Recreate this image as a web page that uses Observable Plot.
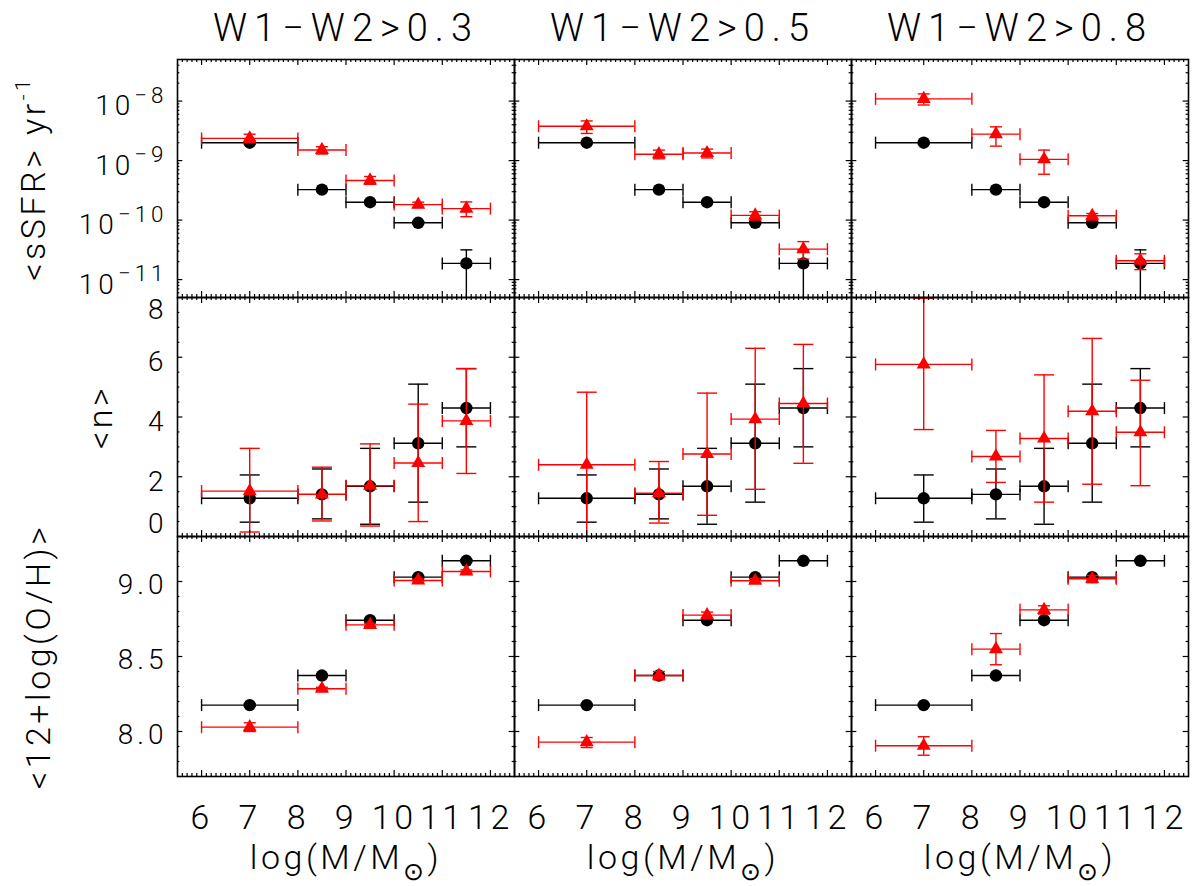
<!DOCTYPE html>
<html>
<head>
<meta charset="utf-8">
<script src="https://cdn.jsdelivr.net/npm/d3@7"></script>
<script src="https://cdn.jsdelivr.net/npm/@observablehq/plot@0.6"></script>
<style>
  body { margin: 0; background: #fff; }
  #chart { position: relative; width: 1197px; height: 886px; background: #fff; }
  #chart svg { position: absolute; left: 0; overflow: visible; }
</style>
</head>
<body>
<div id="chart"></div>
<script>
// ---------------- data ----------------
const columns = ["W1−W2>0.3", "W1−W2>0.5", "W1−W2>0.8"];
const massBin = [7, 8.5, 9.5, 10.5, 11.5];
const massLo  = [6, 8, 9, 10, 11];
const massHi  = [8, 9, 10, 11, 12];

// black circles: full sample (identical in every column)
const ssfrAll   = [2.0e-9, 3.25e-10, 2.0e-10, 9.0e-11, 1.87e-11];
const ssfrAllLo = [1.9e-9, 3.1e-10, 1.9e-10, 8.6e-11, 1e-13];
const ssfrAllHi = [2.1e-9, 3.4e-10, 2.1e-10, 9.4e-11, 3.16e-11];
const nAll      = [1.28, 1.41, 1.68, 3.12, 4.30];
const nAllLo    = [0.48, 0.59, 0.41, 1.15, 3.00];
const nAllHi    = [2.06, 2.26, 2.95, 5.10, 5.62];
const ohAll     = [8.176, 8.373, 8.742, 9.029, 9.138];
const ohAllLo   = [8.168, 8.364, 8.734, 9.022, 9.131];
const ohAllHi   = [8.184, 8.382, 8.750, 9.036, 9.145];

// red triangles: W1-W2 selected samples, one list per column
const ssfrRed   = [[2.36e-9, 1.51e-9, 4.64e-10, 1.82e-10, 1.56e-10],
                   [3.78e-9, 1.28e-9, 1.34e-9, 1.20e-10, 3.25e-11],
                   [1.09e-8, 2.78e-9, 1.05e-9, 1.18e-10, 2.07e-11]];
const ssfrRedLo = [[2.0e-9, 1.29e-9, 4.0e-10, 1.63e-10, 1.14e-10],
                   [2.86e-9, 1.07e-9, 1.11e-9, 1.0e-10, 2.21e-11],
                   [8.6e-9, 1.75e-9, 5.9e-10, 1.0e-10, 1.47e-11]];
const ssfrRedHi = [[2.78e-9, 1.71e-9, 5.4e-10, 2.0e-10, 2.02e-10],
                   [4.64e-9, 1.5e-9, 1.56e-9, 1.38e-10, 4.35e-11],
                   [1.32e-8, 3.69e-9, 1.5e-9, 1.29e-10, 2.71e-11]];
const nRed      = [[1.52, 1.41, 1.70, 2.46, 3.87],
                   [2.40, 1.45, 2.76, 3.93, 4.45],
                   [5.76, 2.68, 3.28, 4.19, 3.49]];
const nRedLo    = [[0.15, 0.52, 0.35, 0.50, 2.11],
                   [-0.10, 0.45, 0.71, 1.58, 2.45],
                   [3.58, 1.81, 1.15, 1.75, 1.70]];
const nRedHi    = [[2.95, 2.32, 3.10, 4.43, 5.62],
                   [4.83, 2.51, 4.80, 6.30, 6.43],
                   [7.97, 3.55, 5.41, 6.63, 5.23]];
const ohRed     = [[8.029, 8.285, 8.711, 9.007, 9.067],
                   [7.929, 8.373, 8.776, 9.005, null],
                   [7.905, 8.549, 8.811, 9.018, null]];
const ohRedLo   = [[8.000, 8.275, 8.701, 8.997, 9.057],
                   [7.893, 8.344, 8.752, 8.992, null],
                   [7.842, 8.445, 8.783, 8.992, null]];
const ohRedHi   = [[8.058, 8.295, 8.721, 9.017, 9.077],
                   [7.960, 8.400, 8.796, 9.020, null],
                   [7.965, 8.653, 8.838, 9.040, null]];

const xTickLabels = [6, 7, 8, 9, 10, 11, 12];
const ssfrTickLabels = [1e-11, 1e-10, 1e-9, 1e-8];
const nTickLabels = [0, 2, 4, 6, 8];
const ohTickLabels = [8.0, 8.5, 9.0];
const yTitles = ["<sSFR> yr^-1", "<n>", "<12+log(O/H)>"];
const xTitle = "log(M/M_⊙)";

// ---------------- layout ----------------
const FONT = "Roboto, 'DejaVu Sans', sans-serif";
const W = 1197, ML = 176, MR = 8;
const PW = (W - ML - MR) / 3;
const BLACK = "#000", RED = "#ff0000";

function records(allV, allLo, allHi, redV, redLo, redHi) {
  const out = [];
  columns.forEach((col, c) => {
    massBin.forEach((m, i) => out.push({col, series: "all", x: m, xlo: massLo[i], xhi: massHi[i],
      y: allV[i], ylo: allLo[i], yhi: allHi[i]}));
    massBin.forEach((m, i) => {
      if (redV[c][i] == null) return;
      out.push({col, series: "red", x: m, xlo: massLo[i], xhi: massHi[i],
        y: redV[c][i], ylo: redLo[c][i], yhi: redHi[c][i]});
    });
  });
  return out;
}

const vBar = h => ({draw(ctx) { ctx.moveTo(0, -h); ctx.lineTo(0, h); }});
const hBar = w => ({draw(ctx) { ctx.moveTo(-w, 0); ctx.lineTo(w, 0); }});

function seriesMarks(data, series, color, symbol, r, capW) {
  const o = {fx: "col", filter: d => d.series === series};
  const line = {stroke: color, strokeWidth: 1.4, fill: "none"};
  return [
    Plot.ruleY(data, {...o, y: "y", x1: "xlo", x2: "xhi", stroke: color, strokeWidth: 1.4}),
    Plot.dot(data, {...o, x: "xlo", y: "y", symbol: vBar(6), r: 1, ...line}),
    Plot.dot(data, {...o, x: "xhi", y: "y", symbol: vBar(6), r: 1, ...line}),
    Plot.ruleX(data, {...o, x: "x", y1: "ylo", y2: "yhi", stroke: color, strokeWidth: 1.4, clip: true}),
    Plot.dot(data, {...o, x: "x", y: "ylo", symbol: hBar(capW), r: 1, ...line, clip: true}),
    Plot.dot(data, {...o, x: "x", y: "yhi", symbol: hBar(capW), r: 1, ...line, clip: true}),
    Plot.dot(data, {...o, x: "x", y: "y", symbol, r, fill: color, stroke: "none"})
  ];
}

function frameTicks(yMaj, yMin, PH) {
  const L = 6, S = 3;
  const xMaj = d3.range(6, 13);
  const xMin = d3.range(56, 125).map(v => v / 10).filter(v => Math.abs(v - Math.round(v)) > 1e-6);
  const st = {stroke: BLACK, strokeWidth: 1.2};
  return [
    Plot.tickX(xMaj, {x: d => d, insetBottom: PH - L, ...st}),
    Plot.tickX(xMaj, {x: d => d, insetTop: PH - L, ...st}),
    Plot.tickX(xMin, {x: d => d, insetBottom: PH - S, ...st}),
    Plot.tickX(xMin, {x: d => d, insetTop: PH - S, ...st}),
    Plot.tickY(yMaj, {y: d => d, insetRight: PW - L, ...st}),
    Plot.tickY(yMaj, {y: d => d, insetLeft: PW - L, ...st}),
    Plot.tickY(yMin, {y: d => d, insetRight: PW - S, ...st}),
    Plot.tickY(yMin, {y: d => d, insetLeft: PW - S, ...st})
  ];
}

function yTitle(i, dx) {
  return Plot.text([{col: columns[0], t: yTitles[i]}], {fx: "col", text: "t", frameAnchor: "left",
    rotate: -90, dx, fontSize: 34, textAnchor: "middle", lineAnchor: "middle", fill: BLACK});
}

const common = (height, mt, mb) => ({
  width: W, height, marginLeft: ML, marginRight: MR, marginTop: mt, marginBottom: mb,
  style: {fontFamily: FONT, fontWeight: 300, background: "transparent", overflow: "visible", color: "#000"},
  fx: {domain: columns, padding: 0, axis: null, label: null},
  x: {domain: [5.5, 12.5], axis: null}
});

const CR = 6.2, TR = 5.2;
const YPAD = 10;

// ---------- row 1 : sSFR ----------
const d1 = records(ssfrAll, ssfrAllLo, ssfrAllHi, ssfrRed, ssfrRedLo, ssfrRedHi);
const logMaj = [1e-11, 1e-10, 1e-9, 1e-8];
const logMin = [];
for (let e = -12; e <= -8; e++) for (let k = 2; k <= 9; k++) {
  const v = k * Math.pow(10, e); if (v > 5e-12 && v < 5e-8) logMin.push(v);
}
const row1 = Plot.plot({
  ...common(297, 59, 0),
  y: {type: "log", domain: [5e-12, 5e-8], axis: null},
  marks: [
    ...seriesMarks(d1, "all", BLACK, "circle", CR, 6),
    ...seriesMarks(d1, "red", RED, "triangle", TR, 6),
    ...frameTicks(logMaj, logMin, 238),
    Plot.frame({stroke: BLACK, strokeWidth: 1.6}),
    Plot.axisFx({anchor: "top", label: null, tickSize: 0, tickPadding: 19, fontSize: 38}),
    Plot.axisY(ssfrTickLabels, {anchor: "left", label: null, tickSize: 0, tickPadding: YPAD, fontSize: 28, dy: 5,
      tickFormat: d => "10^" + String(Math.round(Math.log10(d))).replace("-", "−")}),
    yTitle(0, -143)
  ]
});

// ---------- row 2 : Sersic n ----------
const d2 = records(nAll, nAllLo, nAllHi, nRed, nRedLo, nRedHi);
const row2 = Plot.plot({
  ...common(239, 0, 0),
  y: {domain: [0, 8], axis: null},
  marks: [
    ...seriesMarks(d2, "all", BLACK, "circle", CR, 10),
    ...seriesMarks(d2, "red", RED, "triangle", TR, 10),
    ...frameTicks([2, 4, 6], d3.range(0.5, 8, 0.5).filter(v => v % 2 !== 0), 239),
    Plot.frame({stroke: BLACK, strokeWidth: 1.6}),
    Plot.axisY(nTickLabels.slice(1, 4), {anchor: "left", label: null, tickSize: 0, tickPadding: YPAD, fontSize: 28, dy: 5}),
    Plot.axisY([nTickLabels[4]], {anchor: "left", label: null, tickSize: 0, tickPadding: YPAD, fontSize: 28, dy: 13}),
    Plot.axisY([nTickLabels[0]], {anchor: "left", label: null, tickSize: 0, tickPadding: YPAD, fontSize: 28, dy: -12}),
    yTitle(1, -76)
  ]
});

// ---------- row 3 : metallicity ----------
const d3r = records(ohAll, ohAllLo, ohAllHi, ohRed, ohRedLo, ohRedHi);
const ohMin = d3.range(78, 93).map(v => v / 10).filter(v => Math.abs(v * 2 - Math.round(v * 2)) > 1e-6);
const row3 = Plot.plot({
  ...common(350, 0, 110),
  y: {domain: [7.7, 9.3], axis: null},
  marks: [
    ...seriesMarks(d3r, "all", BLACK, "circle", CR, 6),
    ...seriesMarks(d3r, "red", RED, "triangle", TR, 6),
    ...frameTicks([8.0, 8.5, 9.0], ohMin, 240),
    Plot.frame({stroke: BLACK, strokeWidth: 1.6}),
    Plot.axisY(ohTickLabels, {anchor: "left", label: null, tickSize: 0, tickPadding: YPAD, fontSize: 28, dy: 4,
      tickFormat: d => d.toFixed(1)}),
    Plot.axisX(xTickLabels, {anchor: "bottom", label: null, tickSize: 0, tickPadding: 28, fontSize: 34,
      tickFormat: d => String(d)}),
    Plot.text(columns, {fx: d => d, text: () => xTitle, frameAnchor: "bottom", dy: 82, fontSize: 34,
      lineAnchor: "middle", fill: BLACK}),
    yTitle(2, -138)
  ]
});

// ---------- rich text (super/subscripts, wide letter spacing) ----------
const NS = "http://www.w3.org/2000/svg";
function richText(svg) {
  svg.querySelectorAll("text").forEach(t => {
    const fs = parseFloat(getComputedStyle(t).fontSize) || 28;
    const ls = fs >= 36 ? 7 : fs >= 33 ? 3.5 : 4;
    t.setAttribute("letter-spacing", ls);
    if (t.querySelector("tspan")) return;
    const s = t.textContent;
    let m = s.match(/^(.*)\^(.+)$/);
    if (m) {
      const small = m[1].endsWith("yr");
      t.textContent = m[1];
      const sup = document.createElementNS(NS, "tspan");
      sup.setAttribute("dy", small ? "-0.75em" : "-0.55em");
      sup.setAttribute("font-size", small ? "0.6em" : "0.8em");
      sup.textContent = m[2];
      t.appendChild(sup);
      return;
    }
    m = s.match(/^(.*)_(.)(.*)$/);
    if (m) {
      t.textContent = m[1];
      const sub = document.createElementNS(NS, "tspan");
      sub.setAttribute("dy", (0.3 * fs).toFixed(1));
      sub.setAttribute("font-size", (0.72 * fs).toFixed(1));
      sub.textContent = m[2];
      const rest = document.createElementNS(NS, "tspan");
      rest.setAttribute("dy", (-0.3 * fs).toFixed(1));
      rest.textContent = m[3];
      t.appendChild(sub); t.appendChild(rest);
    }
  });
}

const chart = document.getElementById("chart");
[[row1, 0], [row2, 297], [row3, 536]].forEach(([svg, top]) => {
  svg.style.top = top + "px";
  chart.appendChild(svg);
  richText(svg);
});
</script>
</body>
</html>
